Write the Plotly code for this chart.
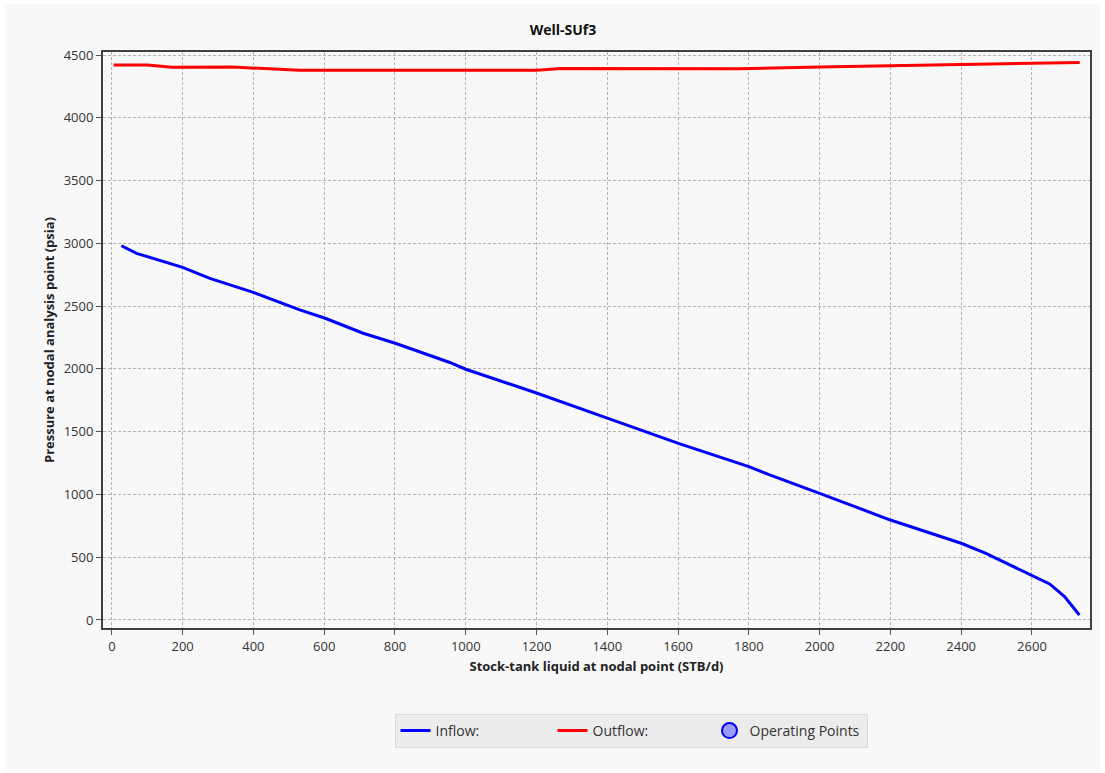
import plotly.graph_objects as go

# Inflow performance (IPR) curve: liquid rate (STB/d) vs pressure (psia)
inflow_rate = [27, 70, 200, 277, 402, 531, 603, 710, 801, 880, 955, 1000, 1035,
               1202, 1402, 1601, 1800, 1859, 2000, 2200, 2400, 2470, 2499,
               2600, 2650, 2692, 2734]
inflow_pressure = [2981, 2920, 2809, 2721, 2607, 2470, 2403, 2284, 2204, 2125,
                   2051, 1997, 1965, 1806, 1606, 1407, 1221, 1155, 1009, 796,
                   611, 531, 491, 358, 287, 186, 40]

# Outflow (tubing) performance curve
outflow_rate = [5, 100, 170, 340, 530, 1200, 1270, 1770, 2000, 2200, 2400, 2600, 2735]
outflow_pressure = [4420, 4420, 4402, 4405, 4378, 4378, 4392, 4390, 4404, 4413,
                    4421, 4431, 4441]

x_ticks = list(range(0, 2800, 200))
y_ticks = list(range(0, 5000, 500))

font_main = "Open Sans, Noto Sans, sans-serif"

fig = go.Figure()
fig.add_trace(go.Scatter(x=inflow_rate, y=inflow_pressure, mode="lines",
                         name="Inflow:", line=dict(color="#0000ff", width=3)))
fig.add_trace(go.Scatter(x=outflow_rate, y=outflow_pressure, mode="lines",
                         name="Outflow:", line=dict(color="#ff0000", width=3)))
fig.add_trace(go.Scatter(x=[None], y=[None], mode="markers", name="Operating Points",
                         marker=dict(size=15, color="rgba(140,140,255,0.85)",
                                     line=dict(color="#0000ee", width=2))))

W, H = 1105, 773
L, R, T, B = 103, 15, 52, 145
pw, ph = W - L - R, H - T - B

def px_x(p):
    return (p - L) / pw

def px_y(p):
    return (H - B - p) / ph

# light panel behind the whole chart
fig.add_shape(type="rect", xref="paper", yref="paper", layer="below",
              x0=px_x(5), x1=px_x(1100), y0=px_y(770), y1=px_y(4),
              fillcolor="#f8f8f8", line=dict(width=0))

axis_common = dict(
    showgrid=True, gridcolor="#b4b4b4", griddash="3px,2px", gridwidth=1,
    showline=True, linecolor="#404040", linewidth=2, mirror=True,
    ticks="outside", ticklen=5, tickcolor="#555555",
    tickfont=dict(family=font_main, size=13, color="#333333"),
    zeroline=False,
)

fig.update_layout(
    width=W, height=H,
    margin=dict(l=L, r=R, t=T, b=B),
    paper_bgcolor="#ffffff",
    plot_bgcolor="#f8f8f8",
    title=dict(text="<b>Well-SUf3</b>", x=563 / W, xanchor="center",
               y=1 - 30 / H, yanchor="middle",
               font=dict(family=font_main, size=14, color="#111111")),
    xaxis=dict(range=[-25, 2764], tickvals=x_ticks,
               title=dict(text="<b>Stock-tank liquid at nodal point (STB/d)</b>",
                          font=dict(family=font_main, size=13, color="#222222"),
                          standoff=8),
               **axis_common),
    yaxis=dict(range=[-64, 4524], tickvals=y_ticks,
               title=dict(text="<b>Pressure at nodal analysis point (psia)</b>",
                          font=dict(family=font_main, size=13, color="#222222"),
                          standoff=6),
               **axis_common),
    legend=dict(orientation="h", x=px_x(631), xanchor="center",
                y=px_y(731), yanchor="middle",
                bgcolor="#ececec", bordercolor="#d4dbe8", borderwidth=1,
                entrywidth=112,
                font=dict(family=font_main, size=14, color="#333333")),
    showlegend=True,
)

fig.write_html("out.html")
